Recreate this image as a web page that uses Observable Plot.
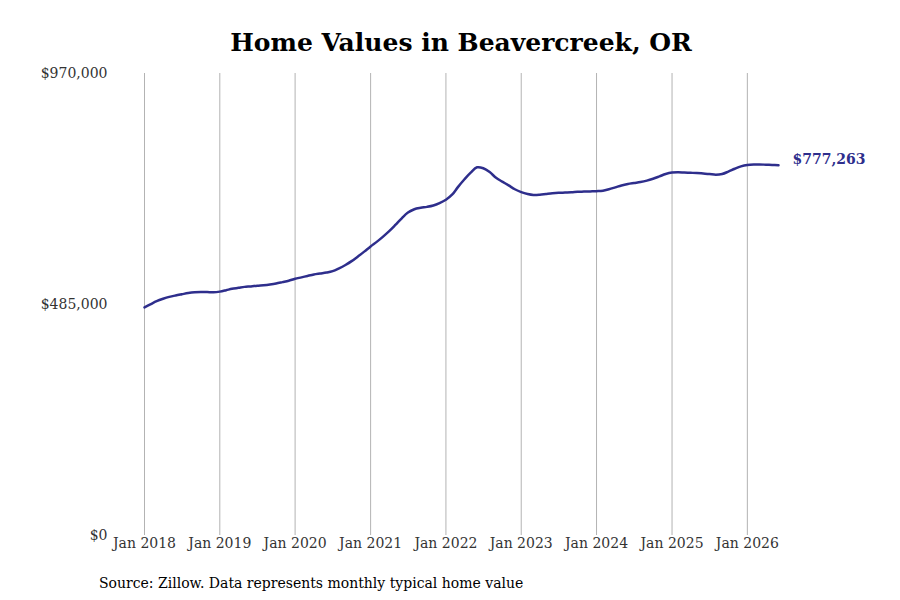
<!DOCTYPE html>
<html>
<head>
<meta charset="utf-8">
<script src="https://cdn.jsdelivr.net/npm/d3@7"></script>
<script src="https://cdn.jsdelivr.net/npm/@observablehq/plot@0.6"></script>
<style>
  body { margin: 0; background: #fff; font-family: "DejaVu Serif", serif; }
  #wrap { position: relative; width: 900px; height: 600px; overflow: hidden; background: #fff; }
  #title { position: absolute; top: 28px; left: 0; width: 922px; text-align: center; font-weight: bold; font-size: 25px; color: #000; }
  #chart { position: absolute; top: 58px; left: 0; }
  #caption { position: absolute; top: 575px; left: 99px; font-size: 14px; color: #000; }
</style>
</head>
<body>
<div id="wrap">
  <div id="title">Home Values in Beavercreek, OR</div>
  <div id="chart"></div>
  <div id="caption">Source: Zillow. Data represents monthly typical home value</div>
</div>
<script>
const startYear = 2018;
const values = [
  // 2018
  479000, 486000, 492000, 497000, 501000, 504000, 506500, 509000, 510500, 511000, 511000, 510500,
  // 2019
  512000, 515000, 518000, 520000, 522000, 523000, 524500, 525500, 527000, 529000, 532000, 535000,
  // 2020
  539000, 542000, 545000, 548000, 550000, 552000, 555000, 561000, 568000, 576000, 586000, 596000,
  // 2021
  607000, 617000, 627000, 639000, 652000, 666000, 678000, 685000, 688000, 690000, 693000, 698000,
  // 2022
  705000, 716000, 732000, 748000, 762000, 773000, 771000, 763000, 751000, 743000, 735000, 727000,
  // 2023
  721000, 717000, 715000, 715500, 717000, 718500, 719500, 720000, 720500, 721500, 722000, 722500,
  // 2024
  723000, 724000, 727000, 731000, 735000, 738000, 740000, 742000, 745000, 749000, 754000, 759000,
  // 2025
  762000, 762500, 762000, 761500, 761000, 760000, 759000, 757500, 759000, 764000, 770000, 775000,
  // 2026
  778000, 779000, 779000, 778500, 778000, 777263
];
const yTicks = [0, 485000, 970000];
const yearTicks = [2018, 2019, 2020, 2021, 2022, 2023, 2024, 2025, 2026];

const data = values.map((v, i) => ({ date: new Date(Date.UTC(startYear, i, 1)), value: v }));
const xTicks = yearTicks.map(y => new Date(Date.UTC(y, 0, 1)));
const last = data[data.length - 1];
const lineColor = "#2e2e8c";
const money = d3.format("$,");

const chart = Plot.plot({
  width: 900,
  height: 510,
  marginTop: 15,
  marginBottom: 33,
  marginLeft: 144,
  marginRight: 122,
  style: { fontFamily: "DejaVu Serif", fontSize: "14px", color: "#333", background: "white" },
  x: { type: "utc", domain: [data[0].date, last.date], label: null },
  y: { domain: [0, 970000], label: null },
  marks: [
    Plot.gridX({ ticks: xTicks, stroke: "#b3b3b3", strokeOpacity: 1, strokeWidth: 1 }),
    Plot.axisX({ ticks: xTicks, tickFormat: d3.utcFormat("%b %Y"), tickSize: 0, tickPadding: 3, label: null }),
    Plot.axisY({ ticks: yTicks, tickFormat: money, tickSize: 0, tickPadding: 37, label: null }),
    Plot.lineY(data, { x: "date", y: "value", stroke: lineColor, strokeWidth: 2.5, curve: "catmull-rom" }),
    Plot.text([last], { x: "date", y: "value", text: d => money(d.value), textAnchor: "start", dx: 14, dy: -6, fill: lineColor, fontWeight: "bold", fontSize: 14 })
  ]
});
document.getElementById("chart").appendChild(chart);
</script>
</body>
</html>
